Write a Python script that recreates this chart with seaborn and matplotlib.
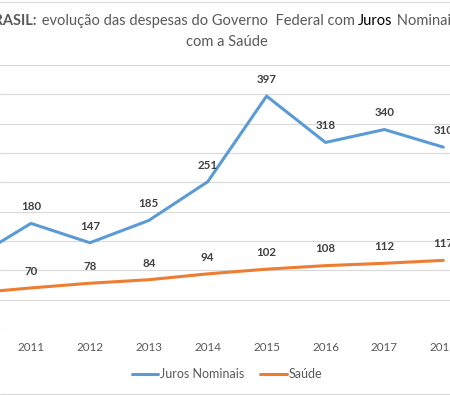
import matplotlib
matplotlib.use("Agg")
import matplotlib.pyplot as plt
from matplotlib.lines import Line2D
import pandas as pd
import seaborn as sns

anos = [2010, 2011, 2012, 2013, 2014, 2015, 2016, 2017, 2018]
juros = [119, 180, 147, 185, 251, 397, 318, 340, 310]
saude = [61, 70, 78, 84, 94, 102, 108, 112, 117]
series = ["Juros Nominais", "Saúde"]
cores = ["#5B9BD5", "#ED7D31"]

df = pd.DataFrame({
    "ano": anos * 2,
    "valor": juros + saude,
    "serie": [series[0]] * len(anos) + [series[1]] * len(anos),
})

sns.set_style("white")
plt.rcParams["font.family"] = ["Lato", "DejaVu Sans"]

W, H = 450, 395
fig = plt.figure(figsize=(W / 100, H / 100), dpi=100)
ax = fig.add_axes([0, (H - 329) / H, 1, (329 - 65) / H])

sns.lineplot(data=df, x="ano", y="valor", hue="serie", palette=cores,
             linewidth=2.2, ax=ax, legend=False)

# ticks primeiro: set_xticks pode alargar os limites
ax.set_xticks(anos)
ax.set_xticklabels([str(a) for a in anos], fontsize=8.4, color="#595959")
ax.set_yticks(range(0, 451, 50))
ax.set_xlim(2010.474, 2018.114)
ax.set_ylim(0, 450)
ax.tick_params(axis="x", length=0, pad=9.5)
ax.tick_params(axis="y", length=0, labelleft=False)
ax.grid(axis="y", color="#d9d9d9", linewidth=0.8)
ax.grid(axis="x", visible=False)
for s in ax.spines.values():
    s.set_visible(False)
ax.set_xlabel("")
ax.set_ylabel("")

# rótulos de dados (só os anos que aparecem no recorte)
x0, x1 = ax.get_xlim()
for vals in (juros, saude):
    for a, v in zip(anos, vals):
        if a < x0:
            continue
        ax.annotate(str(v), (a, v), xytext=(0, 12), textcoords="offset points",
                    ha="center", va="center", fontsize=8.3, fontweight="bold",
                    color="#404040", annotation_clip=False)

# legenda
handles = [Line2D([], [], color=c, linewidth=2.2) for c in cores]
fig.legend(handles, series, loc="center", bbox_to_anchor=(227 / W, 1 - 374 / H),
           ncol=2, frameon=False, fontsize=9, handlelength=2.1,
           handletextpad=0.12, columnspacing=1.3, labelcolor="#595959")

# título com partes em negrito
linha1 = [("BRASIL:", "bold", "#595959"),
          (" evolução das despesas do Governo  Federal com ", "normal", "#595959"),
          ("Juros", "normal", "#000000"),
          (" Nominais e", "normal", "#595959")]
renderer = fig.canvas.get_renderer()
textos = []
for txt, peso, cor in linha1:
    t = fig.text(0, 1 - 21 / H, txt, fontsize=10.5, fontweight=peso, color=cor,
                 va="center", ha="left")
    textos.append(t)
larguras = [t.get_window_extent(renderer).width for t in textos]
x = 227 - sum(larguras) / 2
for t, w in zip(textos, larguras):
    t.set_x(x / W)
    x += w
fig.text(227 / W, 1 - 42 / H, "com a Saúde", fontsize=10.5, color="#595959",
         ha="center", va="center")

# bordas da área do gráfico
for yb in (1.5, 393.5):
    fig.add_artist(Line2D([0, 1], [1 - yb / H] * 2, color="#d9d9d9",
                          linewidth=0.8, transform=fig.transFigure))

fig.savefig("out.png", dpi=100)
